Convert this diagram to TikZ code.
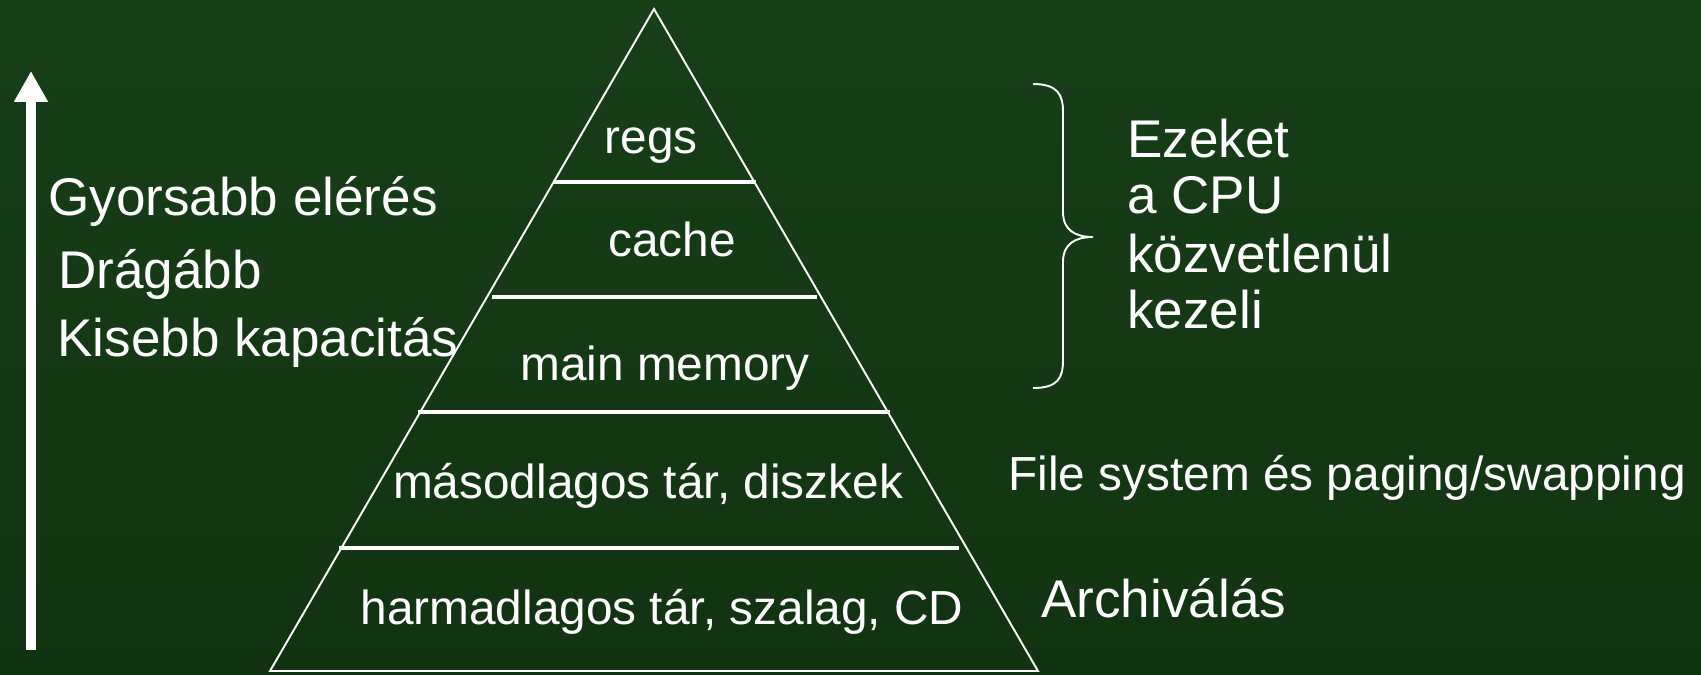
\documentclass[tikz,border=0pt]{standalone}
\usepackage{fontspec}
\setmainfont{Liberation Sans}
\usetikzlibrary{arrows.meta}
\definecolor{boardtop}{RGB}{23,63,24}
\definecolor{boardmid}{RGB}{27,72,28}
\definecolor{boardbot}{RGB}{18,51,17}
\begin{document}
\begin{tikzpicture}[x=0.02cm,y=-0.02cm,
  lbl/.style={text=white,inner sep=0pt,anchor=base,font=\fontsize{27.2}{32}\selectfont},
  side/.style={text=white,inner sep=0pt,anchor=base west,font=\fontsize{30.2}{36}\selectfont},
  edge/.style={white,line width=1.1pt},
  layer/.style={white,line width=2pt}]
\useasboundingbox (0,0) rectangle (1701,674);
\shade[top color=boardtop,middle color=boardmid,bottom color=boardbot] (0,0) rectangle (1701,674);
% pyramid
\coordinate (apex) at (654,9);
\coordinate (bl) at (270,671);
\coordinate (br) at (1038,671);
\draw[edge,line join=miter] (bl) -- (apex) -- (br) -- cycle;
\foreach \y/\a/\b in {182/553/756,297/492/817,412/418/890,548/339/959}
  \draw[layer] (\a,\y) -- (\b,\y);
\node[lbl] (regs) at (651,153) {regs};
\node[lbl] (cache) at (672,256) {cache};
\node[lbl] (mainmem) at (665,380) {main memory};
\node[lbl] (masod) at (648,498) {másodlagos tár, diszkek};
\node[lbl] (harmad) at (662,624) {harmadlagos tár, szalag, CD};
% left arrow and texts
\coordinate (slow) at (31,650);
\coordinate (fast) at (31,71);
\draw[white,line width=5.7pt,-{Triangle[width=18.2pt,length=17.6pt]}] (slow) -- (fast);
\node[side] (gyors) at (48,215) {Gyorsabb elérés};
\node[side] (drag) at (58,288) {Drágább};
\node[side] (kisebb) at (57,356) {Kisebb kapacitás};
% brace
\draw[white,line width=1.1pt] (1033,84) .. controls (1058,84) and (1063,95) .. (1063,112)
  -- (1063,212) .. controls (1063,230) and (1075,237) .. (1093,237)
  .. controls (1075,237) and (1063,244) .. (1063,262)
  -- (1063,360) .. controls (1063,378) and (1058,388) .. (1033,388);
\node[side] (cpu1) at (1127,157) {Ezeket};
\node[side] (cpu2) at (1127,213) {a CPU};
\node[side] (cpu3) at (1127,272) {közvetlenül};
\node[side] (cpu4) at (1127,328) {kezeli};
\node[side,font=\fontsize{27.2}{32}\selectfont] (fsys) at (1008,490) {File system és paging/swapping};
\node[side] (arch) at (1041,617) {Archiválás};
\end{tikzpicture}
\end{document}
